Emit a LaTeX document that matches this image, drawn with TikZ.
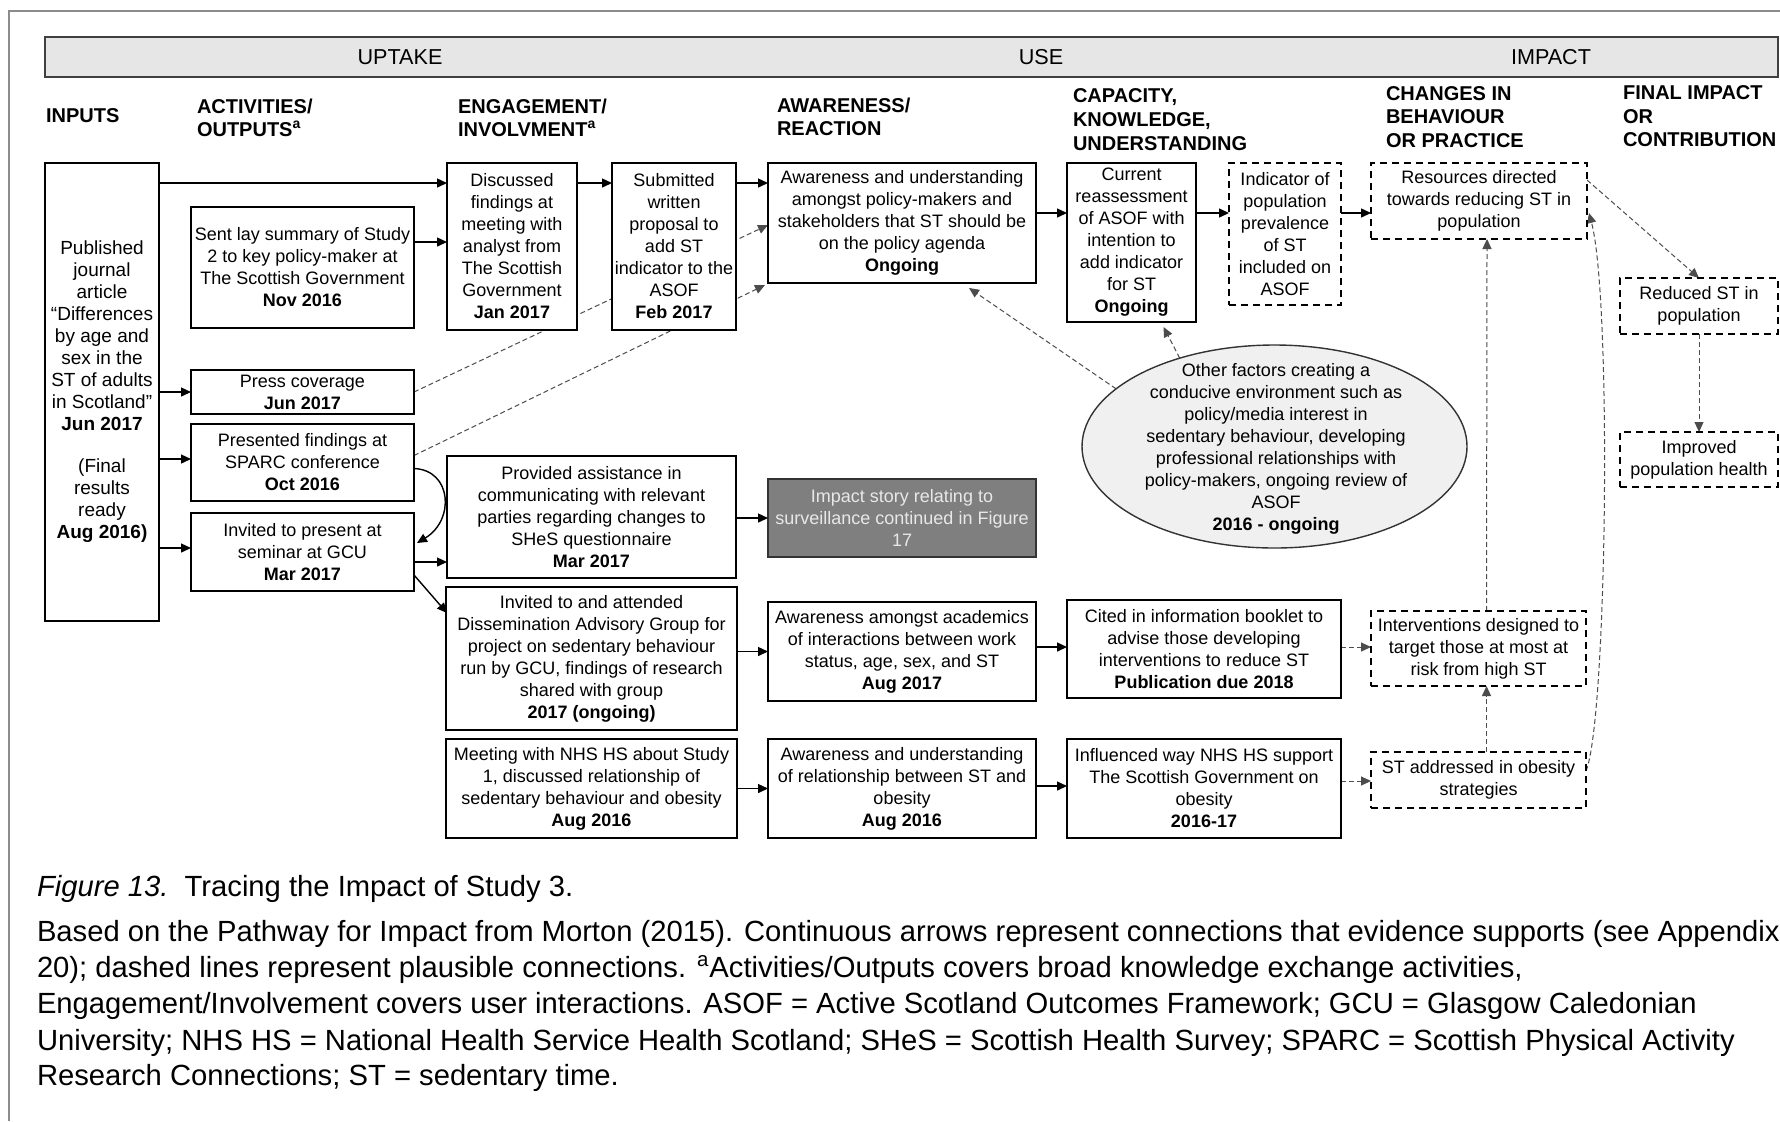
\documentclass[tikz,border=0pt]{standalone}
\usepackage{fontspec}
\setmainfont{Liberation Sans}
\usetikzlibrary{arrows.meta,calc,shapes.geometric,backgrounds}

\definecolor{barfill}{HTML}{E6E6E6}
\definecolor{ellfill}{HTML}{F0F0F0}
\definecolor{storyfill}{HTML}{7F7F7F}
\definecolor{storytext}{HTML}{E8E8E8}
\definecolor{framegray}{HTML}{8C8C8C}

% box from its corners (x1,y1)-(x2,y2), in pixel units
\newcommand\boxat[7]{\node[#2, minimum width={(#5-#3)*0.5pt}, minimum height={(#6-#4)*0.5pt}] (#1) at ({(#3+#5)/2},{(#4+#6)/2}) {#7};}

\begin{document}
\begin{tikzpicture}[x=0.5pt,y=-0.5pt,
  every node/.style={inner sep=0pt, outer sep=0pt},
  txt/.style={font=\fontsize{9}{11}\selectfont, align=center},
  solidbox/.style={txt, draw, line width=1pt, fill=white},
  dashbox/.style={txt, draw, line width=1pt, fill=white, dash pattern=on 3.5pt off 2.5pt},
  arr/.style={-{Triangle[length=5pt,width=4.5pt]}, line width=0.7pt},
  darr/.style={-{Triangle[length=5pt,width=4.5pt]}, line width=0.5pt, dash pattern=on 2.5pt off 1.5pt, draw=black!70},
  colhead/.style={font=\bfseries\fontsize{10}{12}\selectfont, anchor=base west},
  bandlabel/.style={font=\fontsize{10.8}{12}\selectfont},
  capline/.style={font=\fontsize{14.6}{18}\selectfont, anchor=base west},
]
\useasboundingbox (0,0) rectangle (1780,1121);

% page frame
\draw[framegray, line width=0.6pt] (9,1121) -- (9,11) -- (1780,11);

% band across the top
\boxat{bar}{draw=black!75, line width=0.9pt, fill=barfill}{45}{37}{1778}{77}{}
\node[bandlabel] (lup) at (400,57) {UPTAKE};
\node[bandlabel] (luse) at (1041,57) {USE};
\node[bandlabel] (limp) at (1551,57) {IMPACT};

% column headings
\node[colhead] (hin) at (46,122) {INPUTS};
\node[colhead] (hact1) at (197,113) {ACTIVITIES/};
\node[colhead] (hact2) at (197,136) {OUTPUTS\textsuperscript{a}};
\node[colhead] (heng1) at (458,113) {ENGAGEMENT/};
\node[colhead] (heng2) at (458,136) {INVOLVMENT\textsuperscript{a}};
\node[colhead] (hawa1) at (777,112) {AWARENESS/};
\node[colhead] (hawa2) at (777,135) {REACTION};
\node[colhead] (hcap1) at (1073,102) {CAPACITY,};
\node[colhead] (hcap2) at (1073,126) {KNOWLEDGE,};
\node[colhead] (hcap3) at (1073,150) {UNDERSTANDING};
\node[colhead] (hchg1) at (1386,100.5) {CHANGES IN};
\node[colhead] (hchg2) at (1386,123.5) {BEHAVIOUR};
\node[colhead] (hchg3) at (1386,147.5) {OR PRACTICE};
\node[colhead] (hfin1) at (1623,99.5) {FINAL IMPACT};
\node[colhead] (hfin2) at (1623,123.5) {OR};
\node[colhead] (hfin3) at (1623,146.5) {CONTRIBUTION};

% inputs
\boxat{inputs}{solidbox, font=\fontsize{9.5}{11}\selectfont}{45}{163}{159}{621}{Published\\ journal\\ article\\ “Differences\\ by age and\\ sex in the\\ ST of adults\\ in Scotland”\\ \textbf{Jun 2017}\\[10pt] (Final\\ results\\ ready\\ \textbf{Aug 2016)}}

% activities / outputs
\boxat{sentlay}{solidbox}{191}{207}{414}{328}{Sent lay summary of Study\\ 2 to key policy-maker at\\ The Scottish Government\\ \textbf{Nov 2016}}
\boxat{press}{solidbox}{191}{370}{414}{414}{Press coverage\\ \textbf{Jun 2017}}
\boxat{presented}{solidbox}{191}{424}{414}{501}{Presented findings at\\ SPARC conference\\ \textbf{Oct 2016}}
\boxat{invpres}{solidbox}{191}{513}{414}{591}{Invited to present at\\ seminar at GCU\\ \textbf{Mar 2017}}

% engagement / involvement
\boxat{discussed}{solidbox}{447}{163}{577}{330}{Discussed\\ findings at\\ meeting with\\ analyst from\\ The Scottish\\ Government\\ \textbf{Jan 2017}}
\boxat{submitted}{solidbox}{612}{163}{736}{330}{Submitted\\ written\\ proposal to\\ add ST\\ indicator to the\\ ASOF\\ \textbf{Feb 2017}}
\boxat{provided}{solidbox}{447}{456}{736}{578}{Provided assistance in\\ communicating with relevant\\ parties regarding changes to\\ SHeS questionnaire\\ \textbf{Mar 2017}}
\boxat{attended}{solidbox}{446}{587}{737}{730}{Invited to and attended\\ Dissemination Advisory Group for\\ project on sedentary behaviour\\ run by GCU, findings of research\\ shared with group\\ \textbf{2017 (ongoing)}}
\boxat{meeting}{solidbox}{446}{739}{737}{838}{Meeting with NHS HS about Study\\ 1, discussed relationship of\\ sedentary behaviour and obesity\\ \textbf{Aug 2016}}

% awareness / reaction
\boxat{aw1}{solidbox}{768}{163}{1036}{283}{Awareness and understanding\\ amongst policy-makers and\\ stakeholders that ST should be\\ on the policy agenda\\ \textbf{Ongoing}}
\boxat{impact}{txt, draw=black!80, line width=1pt, fill=storyfill, text=storytext}{768}{479}{1036}{557}{Impact story relating to\\ surveillance continued in Figure\\ 17}
\boxat{academics}{solidbox}{768}{602}{1036}{701}{Awareness amongst academics\\ of interactions between work\\ status, age, sex, and ST\\ \textbf{Aug 2017}}
\boxat{relation}{solidbox}{768}{739}{1036}{838}{Awareness and understanding\\ of relationship between ST and\\ obesity\\ \textbf{Aug 2016}}

% capacity, knowledge, understanding
\boxat{current}{solidbox}{1067}{163}{1196}{322}{Current\\ reassessment\\ of ASOF with\\ intention to\\ add indicator\\ for ST\\ \textbf{Ongoing}}
\boxat{indicator}{dashbox}{1229}{163}{1341}{305}{Indicator of\\ population\\ prevalence\\ of ST\\ included on\\ ASOF}
\boxat{cited}{solidbox}{1067}{600}{1341}{698}{Cited in information booklet to\\ advise those developing\\ interventions to reduce ST\\ \textbf{Publication due 2018}}
\boxat{influenced}{solidbox}{1067}{739}{1341}{838}{Influenced way NHS HS support\\ The Scottish Government on\\ obesity\\ \textbf{2016-17}}

% changes in behaviour or practice
\boxat{res}{dashbox}{1371}{163}{1587}{239}{Resources directed\\ towards reducing ST in\\ population}
\boxat{int}{dashbox}{1371}{611}{1586}{686}{Interventions designed to\\ target those at most at\\ risk from high ST}
\boxat{stobes}{dashbox}{1371}{752}{1586}{808}{ST addressed in obesity\\ strategies}

% final impact
\boxat{reduced}{dashbox}{1620}{278}{1778}{334}{Reduced ST in\\ population}
\boxat{improved}{dashbox}{1620}{432}{1778}{487}{Improved\\ population health}

% context ellipse
\node[ellipse, draw=black!80, line width=0.7pt, fill=ellfill, minimum width=192.5pt, minimum height=101.5pt] (ell) at (1274.5,446.5) {};
\node[txt] (elltxt) at (1276,449) {Other factors creating a\\ conducive environment such as\\ policy/media interest in\\ sedentary behaviour, developing\\ professional relationships with\\ policy-makers, ongoing review of\\ ASOF\\ \textbf{2016 - ongoing}};

% evidenced connections
\draw[arr] (inputs.east |- 0,183) -- (discussed.west |- 0,183);
\draw[arr] (sentlay.east |- 0,242) -- (discussed.west |- 0,242);
\draw[arr] (inputs.east |- press.west) -- (press.west);
\draw[arr] (inputs.east |- 0,459) -- (presented.west |- 0,459);
\draw[arr] (inputs.east |- 0,548) -- (invpres.west |- 0,548);
\draw[arr] ($(presented.east)+(0,6)$) .. controls (452,470) and (455,520) .. ($(invpres.east)+(3,-9)$);
\draw[arr] (invpres.east |- 0,562) -- (provided.west |- 0,562);
\draw[arr] ($(invpres.east)+(0,23)$) -- ($(attended.north west)+(1,26)$);
\draw[arr] (discussed.east |- 0,183) -- (submitted.west |- 0,183);
\draw[arr] (submitted.east |- 0,183) -- (aw1.west |- 0,183);
\draw[arr] (aw1.east |- 0,213) -- (current.west |- 0,213);
\draw[arr] (current.east |- 0,213) -- (indicator.west |- 0,213);
\draw[arr] (indicator.east |- 0,213) -- (res.west |- 0,213);
\draw[arr] (provided.east |- impact.west) -- (impact.west);
\draw[arr] (attended.east |- academics.west) -- (academics.west);
\draw[arr] (meeting.east |- relation.west) -- (relation.west);
\draw[arr] (academics.east |- 0,647) -- (cited.west |- 0,647);
\draw[arr] (relation.east |- 0,786) -- (influenced.west |- 0,786);

% plausible connections, behind the boxes
\begin{pgfonlayer}{background}
\fill[white] (0,0) rectangle (1780,1121);
\draw[darr] (press.east) -- ($(aw1.west)+(0,2)$);
\draw[darr] ($(presented.east)+(0,-7)$) -- ($(aw1.south west)+(-3,2)$);
\draw[darr] (ell.160) -- ($(aw1.south west)!0.75!(aw1.south east)+(0,5)$);
\draw[darr] (ell.137) -- ($(current.south)+(32,5)$);
\draw[darr] ($(res.east)+(0,-21)$) -- (reduced.north);
\draw[darr] (reduced.south) -- (improved.north);
\draw[darr] ($(int.north)+(8,0)$) -- ($(res.south)+(8,0)$);
\draw[darr] ($(stobes.north)+(8,0)$) -- ($(int.south)+(8,0)$);
\draw[darr] (cited.east |- 0,647) -- (int.west |- 0,647);
\draw[darr] (influenced.east |- 0,781) -- (stobes.west |- 0,781);
\draw[darr] ($(stobes.east)+(0,-9)$) .. controls (1607,720) and (1612,300) .. ($(res.east)+(2,12)$);
\end{pgfonlayer}

% caption
\node[capline] (cap0) at (37,896) {\textit{Figure 13.}\ \ Tracing the Impact of Study 3.};
\node[capline] (cap1) at (37,941) {Based on the Pathway for Impact from Morton (2015). Continuous arrows represent connections that evidence supports (see Appendix};
\node[capline] (cap2) at (37,977) {20); dashed lines represent plausible connections. \textsuperscript{a}Activities/Outputs covers broad knowledge exchange activities,};
\node[capline] (cap3) at (37,1013) {Engagement/Involvement covers user interactions. ASOF = Active Scotland Outcomes Framework; GCU = Glasgow Caledonian};
\node[capline] (cap4) at (37,1050) {University; NHS HS = National Health Service Health Scotland; SHeS = Scottish Health Survey; SPARC = Scottish Physical Activity};
\node[capline] (cap5) at (37,1085) {Research Connections; ST = sedentary time.};
\end{tikzpicture}
\end{document}
